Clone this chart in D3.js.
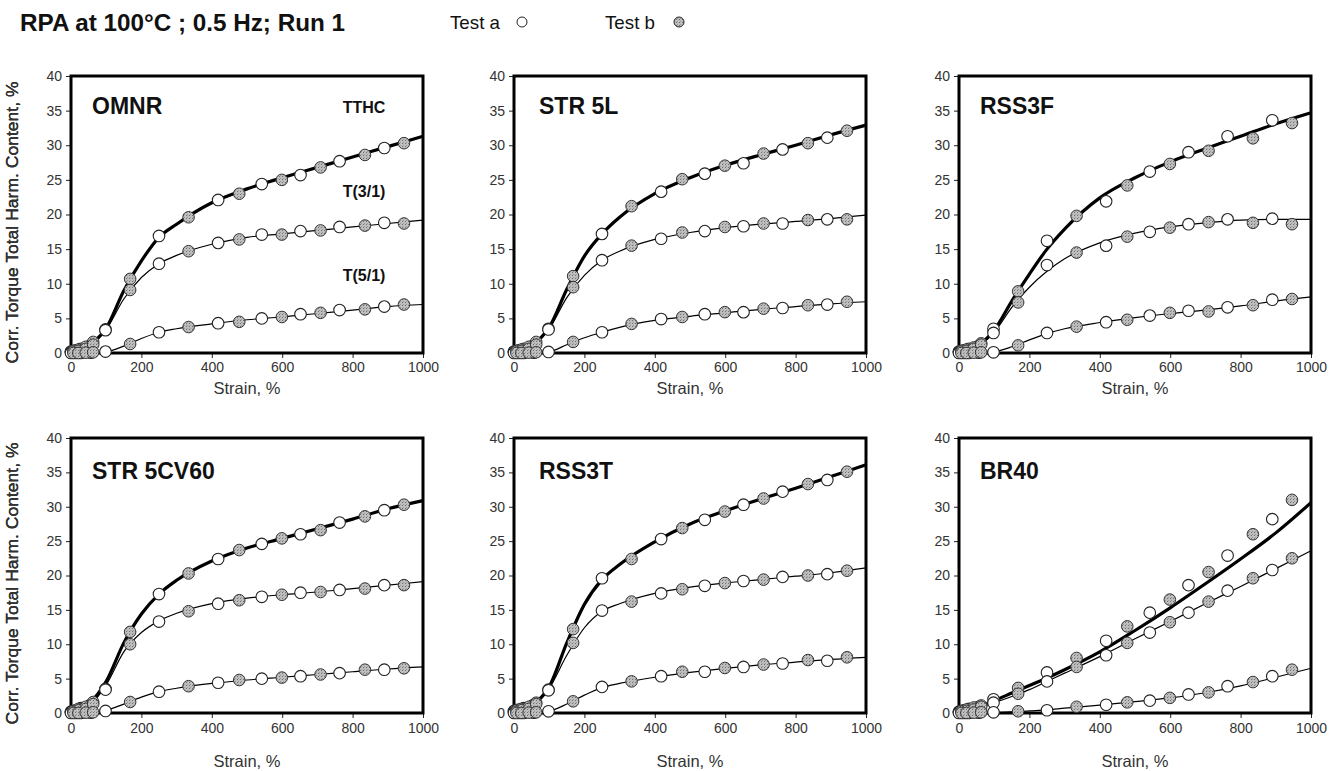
<!DOCTYPE html>
<html>
<head>
<meta charset="utf-8">
<script src="https://cdn.jsdelivr.net/npm/d3@7"></script>
<style>
  html, body { margin: 0; padding: 0; background: #fff; }
  svg { display: block; font-family: "Liberation Sans", Arial, sans-serif; }
</style>
</head>
<body>
<svg id="chart" width="1329" height="771"></svg>
<script>
// Strain levels of the two test runs and of the fitted curves (%)
const strainA = [0, 14, 28, 56, 98, 250, 418, 542, 652, 763, 890];
const strainB = [7, 21, 42, 63, 168, 334, 478, 599, 709, 835, 946];
const fitStrain = [0, 50, 100, 150, 200, 250, 300, 400, 500, 600, 700, 800, 900, 1000];

const xTicks = [0, 200, 400, 600, 800, 1000];
const yTicks = [0, 5, 10, 15, 20, 25, 30, 35, 40];

const panelNames = ["OMNR", "STR 5L", "RSS3F", "STR 5CV60", "RSS3T", "BR40"];
const seriesNames = ["TTHC", "T(3/1)", "T(5/1)"];

// OMNR
const omnrTthcA = [0.2, 0.4, 0.6, 1.1, 3.4, 16.9, 22.1, 24.4, 25.7, 27.7, 29.6];
const omnrTthcB = [0.3, 0.5, 0.9, 1.6, 10.7, 19.6, 23.0, 25.0, 26.8, 28.6, 30.3];
const omnrTthcFit = [0.2, 1.1, 3.6, 9.0, 13.3, 16.7, 18.6, 21.7, 23.7, 25.3, 26.8, 28.3, 29.8, 31.3];
const omnrT3A = [0.1, 0.3, 0.4, 0.8, 3.3, 12.9, 15.9, 17.1, 17.6, 18.2, 18.8];
const omnrT3B = [0.2, 0.3, 0.6, 1.2, 9.1, 14.7, 16.4, 17.1, 17.7, 18.4, 18.7];
const omnrT3Fit = [0.1, 0.9, 3.4, 7.8, 10.9, 12.9, 14.1, 15.7, 16.7, 17.2, 17.7, 18.2, 18.7, 19.2];
const omnrT5A = [0, 0, 0, 0.05, 0.2, 3.0, 4.3, 5.0, 5.6, 6.2, 6.7];
const omnrT5B = [0, 0, 0.05, 0.1, 1.3, 3.75, 4.5, 5.2, 5.8, 6.3, 7.0];
const omnrT5Fit = [0, 0.05, 0.2, 1.0, 2.1, 3.0, 3.5, 4.2, 4.8, 5.2, 5.7, 6.2, 6.7, 7.0];

// STR 5L
const str5lTthcA = [0.2, 0.4, 0.6, 1.1, 3.5, 17.2, 23.3, 25.9, 27.4, 29.4, 31.1];
const str5lTthcB = [0.3, 0.5, 0.9, 1.6, 11.1, 21.2, 25.1, 27.05, 28.8, 30.3, 32.1];
const str5lTthcFit = [0.2, 1.1, 3.7, 9.2, 14.0, 17.2, 19.6, 23.0, 25.3, 27.1, 28.6, 30.0, 31.5, 32.9];
const str5lT3A = [0.1, 0.3, 0.4, 0.8, 3.4, 13.4, 16.5, 17.6, 18.3, 18.7, 19.3];
const str5lT3B = [0.2, 0.3, 0.6, 1.2, 9.5, 15.5, 17.4, 18.2, 18.7, 19.2, 19.3];
const str5lT3Fit = [0.1, 0.9, 3.5, 8.0, 11.2, 13.4, 14.7, 16.4, 17.4, 18.1, 18.6, 19.0, 19.4, 19.9];
const str5lT5A = [0, 0, 0, 0.05, 0.15, 3.0, 4.9, 5.6, 5.9, 6.5, 7.0];
const str5lT5B = [0, 0, 0.05, 0.1, 1.6, 4.2, 5.2, 5.9, 6.4, 6.9, 7.4];
const str5lT5Fit = [0, 0.05, 0.2, 1.2, 2.2, 3.0, 3.7, 4.7, 5.3, 5.8, 6.3, 6.7, 7.1, 7.4];

// RSS3F
const rss3fTthcA = [0.2, 0.4, 0.6, 1.0, 3.5, 16.2, 21.9, 26.2, 29.0, 31.3, 33.6];
const rss3fTthcB = [0.3, 0.5, 0.8, 1.4, 8.9, 19.8, 24.2, 27.3, 29.2, 31.0, 33.2];
const rss3fTthcFit = [0.2, 1.0, 3.3, 7.5, 11.4, 15.0, 17.9, 22.4, 25.3, 27.6, 29.5, 31.3, 33.1, 34.7];
const rss3fT3A = [0.1, 0.3, 0.4, 0.8, 2.9, 12.7, 15.5, 17.5, 18.6, 19.3, 19.4];
const rss3fT3B = [0.2, 0.3, 0.6, 1.2, 7.3, 14.5, 16.8, 18.1, 18.9, 18.8, 18.6];
const rss3fT3Fit = [0.1, 0.8, 3.0, 6.6, 9.5, 11.8, 13.6, 15.9, 17.3, 18.2, 18.8, 19.2, 19.3, 19.3];
const rss3fT5A = [0, 0, 0, 0.05, 0.1, 2.9, 4.45, 5.4, 6.1, 6.6, 7.7];
const rss3fT5B = [0, 0, 0.05, 0.1, 1.1, 3.8, 4.8, 5.8, 6.0, 6.9, 7.8];
const rss3fT5Fit = [0, 0.05, 0.2, 0.9, 1.9, 2.8, 3.5, 4.4, 5.1, 5.7, 6.2, 6.8, 7.5, 8.1];

// STR 5CV60
const str5cvTthcA = [0.2, 0.4, 0.7, 1.2, 3.5, 17.3, 22.4, 24.6, 26.0, 27.7, 29.5];
const str5cvTthcB = [0.3, 0.6, 0.9, 1.6, 11.8, 20.3, 23.7, 25.4, 26.6, 28.6, 30.3];
const str5cvTthcFit = [0.2, 1.3, 4.6, 10.2, 14.4, 17.3, 19.3, 22.1, 24.0, 25.4, 26.8, 28.2, 29.7, 30.9];
const str5cvT3A = [0.1, 0.3, 0.5, 0.9, 3.4, 13.3, 15.9, 16.9, 17.5, 17.9, 18.6];
const str5cvT3B = [0.2, 0.4, 0.6, 1.3, 10.0, 14.8, 16.4, 17.2, 17.6, 18.1, 18.6];
const str5cvT3Fit = [0.1, 1.0, 4.1, 8.9, 11.7, 13.4, 14.5, 15.9, 16.7, 17.2, 17.6, 18.1, 18.6, 19.1];
const str5cvT5A = [0, 0, 0, 0.05, 0.3, 3.1, 4.4, 5.0, 5.35, 5.8, 6.3];
const str5cvT5B = [0, 0, 0.05, 0.1, 1.6, 3.9, 4.8, 5.15, 5.6, 6.3, 6.5];
const str5cvT5Fit = [0, 0.1, 0.4, 1.3, 2.3, 3.1, 3.6, 4.3, 4.8, 5.2, 5.6, 6.0, 6.4, 6.7];

// RSS3T
const rss3tTthcA = [0.3, 0.5, 0.7, 1.2, 3.4, 19.6, 25.3, 28.1, 30.3, 32.2, 33.9];
const rss3tTthcB = [0.4, 0.6, 0.9, 1.5, 12.2, 22.4, 26.9, 29.3, 31.2, 33.3, 35.1];
const rss3tTthcFit = [0.5, 1.2, 3.8, 10.2, 15.8, 19.4, 21.6, 24.9, 27.5, 29.4, 31.1, 32.7, 34.4, 36.1];
const rss3tT3A = [0.1, 0.3, 0.5, 0.9, 3.3, 14.9, 17.4, 18.5, 19.2, 19.8, 20.2];
const rss3tT3B = [0.2, 0.4, 0.6, 1.3, 10.2, 16.2, 18.0, 18.9, 19.4, 20.0, 20.7];
const rss3tT3Fit = [0.1, 0.9, 3.6, 8.4, 12.4, 14.8, 15.9, 17.4, 18.3, 18.9, 19.4, 19.9, 20.4, 21.1];
const rss3tT5A = [0, 0, 0, 0.05, 0.25, 3.8, 5.35, 6.0, 6.7, 7.2, 7.6];
const rss3tT5B = [0, 0, 0.05, 0.1, 1.7, 4.6, 6.0, 6.55, 7.05, 7.7, 8.1];
const rss3tT5Fit = [0, 0.1, 0.3, 1.3, 2.6, 3.7, 4.3, 5.2, 5.9, 6.5, 7.0, 7.4, 7.8, 8.1];

// BR40
const br40TthcA = [0.2, 0.4, 0.6, 0.9, 2.0, 5.9, 10.5, 14.6, 18.6, 22.9, 28.2];
const br40TthcB = [0.3, 0.5, 0.8, 1.1, 3.65, 8.0, 12.6, 16.5, 20.5, 26.0, 31.0];
const br40TthcFit = [0.2, 0.9, 1.8, 2.9, 4.0, 5.1, 6.3, 8.9, 12.0, 15.3, 18.8, 22.4, 26.2, 30.6];
const br40T3A = [0.1, 0.3, 0.4, 0.7, 1.5, 4.6, 8.4, 11.7, 14.6, 17.8, 20.8];
const br40T3B = [0.2, 0.3, 0.5, 0.9, 2.8, 6.7, 10.2, 13.2, 16.2, 19.6, 22.5];
const br40T3Fit = [0.1, 0.7, 1.5, 2.4, 3.4, 4.6, 5.8, 8.2, 10.8, 13.3, 15.9, 18.4, 21.0, 23.6];
const br40T5A = [0, 0, 0, 0.05, 0.1, 0.4, 1.2, 1.8, 2.7, 3.9, 5.35];
const br40T5B = [0, 0, 0.05, 0.1, 0.25, 0.9, 1.55, 2.2, 3.0, 4.5, 6.3];
const br40T5Fit = [0, 0, 0.05, 0.15, 0.3, 0.45, 0.7, 1.15, 1.65, 2.2, 2.95, 3.95, 5.2, 6.5];

// Table assembled from the arrays above
const panels = [
  [[omnrTthcA, omnrTthcB, omnrTthcFit], [omnrT3A, omnrT3B, omnrT3Fit], [omnrT5A, omnrT5B, omnrT5Fit]],
  [[str5lTthcA, str5lTthcB, str5lTthcFit], [str5lT3A, str5lT3B, str5lT3Fit], [str5lT5A, str5lT5B, str5lT5Fit]],
  [[rss3fTthcA, rss3fTthcB, rss3fTthcFit], [rss3fT3A, rss3fT3B, rss3fT3Fit], [rss3fT5A, rss3fT5B, rss3fT5Fit]],
  [[str5cvTthcA, str5cvTthcB, str5cvTthcFit], [str5cvT3A, str5cvT3B, str5cvT3Fit], [str5cvT5A, str5cvT5B, str5cvT5Fit]],
  [[rss3tTthcA, rss3tTthcB, rss3tTthcFit], [rss3tT3A, rss3tT3B, rss3tT3Fit], [rss3tT5A, rss3tT5B, rss3tT5Fit]],
  [[br40TthcA, br40TthcB, br40TthcFit], [br40T3A, br40T3B, br40T3Fit], [br40T5A, br40T5B, br40T5Fit]]
].map((series, i) => ({ name: panelNames[i], series }));

// Layout
const colLeft = [71, 514, 959];
const rowTop = [76, 438];
const plotW = 352;
const rowH = [277, 275];
const tickPad = [4, 5];
const xLabelGap = [41, 54];

const svg = d3.select("#chart");
svg.append("rect").attr("width", 1329).attr("height", 771).attr("fill", "#fff");

// Stippled grey fill of the "Test b" markers
const defs = svg.append("defs");
const pat = defs.append("pattern").attr("id", "stipple")
  .attr("patternUnits", "userSpaceOnUse").attr("width", 3).attr("height", 3);
pat.append("rect").attr("width", 3).attr("height", 3).attr("fill", "#bebebe");
pat.append("rect").attr("x", 1).attr("y", 1).attr("width", 1).attr("height", 1).attr("fill", "#707070");
pat.append("rect").attr("x", 2).attr("y", 0).attr("width", 1).attr("height", 1).attr("fill", "#9a9a9a");

// Header
svg.append("text").attr("x", 20).attr("y", 31)
  .attr("font-size", 23).attr("font-weight", "bold").attr("fill", "#111")
  .attr("textLength", 325).attr("lengthAdjust", "spacingAndGlyphs")
  .text("RPA at 100°C ; 0.5 Hz; Run 1");

const legend = [
  { label: "Test a", tx: 450, cx: 522, fill: "#fff" },
  { label: "Test b", tx: 605, cx: 679, fill: "url(#stipple)" }
];
legend.forEach(l => {
  svg.append("text").attr("x", l.tx).attr("y", 29).attr("font-size", 19).attr("fill", "#111")
    .attr("textLength", 50).attr("lengthAdjust", "spacingAndGlyphs").text(l.label);
  svg.append("circle").attr("cx", l.cx).attr("cy", 22).attr("r", 5)
    .attr("fill", l.fill).attr("stroke", "#222").attr("stroke-width", 1);
});

panels.forEach((p, i) => {
  const col = i % 3, row = Math.floor(i / 3);
  const h = rowH[row];
  const g = svg.append("g").attr("transform", `translate(${colLeft[col]},${rowTop[row]})`);
  const x = d3.scaleLinear().domain([0, 1000]).range([0, plotW]);
  const y = d3.scaleLinear().domain([0, 40]).range([h, 0]);

  // axes
  const ya = g.append("g").call(d3.axisLeft(y).tickValues(yTicks).tickSize(5).tickPadding(4));
  const xa = g.append("g").attr("transform", `translate(0,${h})`)
    .call(d3.axisBottom(x).tickValues(xTicks).tickFormat(d3.format("d"))
      .tickSize(5).tickPadding(tickPad[row]));
  [ya, xa].forEach(a => {
    a.select(".domain").remove();
    a.selectAll("line").attr("stroke", "#222");
    a.selectAll("text").attr("font-size", 14).attr("fill", "#333")
      .attr("font-family", "'Liberation Sans', Arial, sans-serif");
  });

  // axis titles
  g.append("text")
    .attr("transform", `translate(${18 - colLeft[col]},${h / 2 + 8}) rotate(-90)`)
    .attr("text-anchor", "middle").attr("font-size", 16.5).attr("fill", "#333")
    .attr("textLength", 282).attr("lengthAdjust", "spacingAndGlyphs")
    .text("Corr. Torque Total Harm. Content, %");
  g.append("text").attr("x", plotW / 2).attr("y", h + xLabelGap[row])
    .attr("text-anchor", "middle").attr("font-size", 16.5).attr("fill", "#333")
    .text("Strain, %");

  // fitted curves
  const line = d3.line().x((d, k) => x(fitStrain[k])).y(d => y(d)).curve(d3.curveMonotoneX);
  p.series.forEach((s, k) => {
    g.append("path").datum(s[2]).attr("d", line)
      .attr("fill", "none").attr("stroke", "#000")
      .attr("stroke-width", k === 0 ? 3.2 : 1.2).attr("stroke-linejoin", "round");
  });

  // frame
  g.append("rect").attr("width", plotW).attr("height", h)
    .attr("fill", "none").attr("stroke", "#000").attr("stroke-width", 3);

  // data points: Test a open, Test b stippled on top
  p.series.forEach(s => {
    g.selectAll(null).data(s[0]).join("circle")
      .attr("cx", (d, k) => x(strainA[k])).attr("cy", d => y(d)).attr("r", 5.8)
      .attr("fill", "#fff").attr("stroke", "#222").attr("stroke-width", 1.1);
  });
  p.series.forEach(s => {
    g.selectAll(null).data(s[1]).join("circle")
      .attr("cx", (d, k) => x(strainB[k])).attr("cy", d => y(d)).attr("r", 5.8)
      .attr("fill", "url(#stipple)").attr("stroke", "#333").attr("stroke-width", 1);
  });

  // panel title
  g.append("text").attr("x", i % 3 === 1 ? 25 : 21).attr("y", row === 0 ? 38 : 41)
    .attr("font-size", 23).attr("font-weight", "bold").attr("fill", "#111")
    .text(p.name);

  // curve names, first panel only
  if (i === 0) {
    const labelPos = [34.6, 22.5, 10.4];
    seriesNames.forEach((n, k) => {
      g.append("text").attr("x", x(772)).attr("y", y(labelPos[k]))
        .attr("font-size", 16).attr("font-weight", "bold").attr("fill", "#111").text(n);
    });
  }
});
</script>
</body>
</html>
